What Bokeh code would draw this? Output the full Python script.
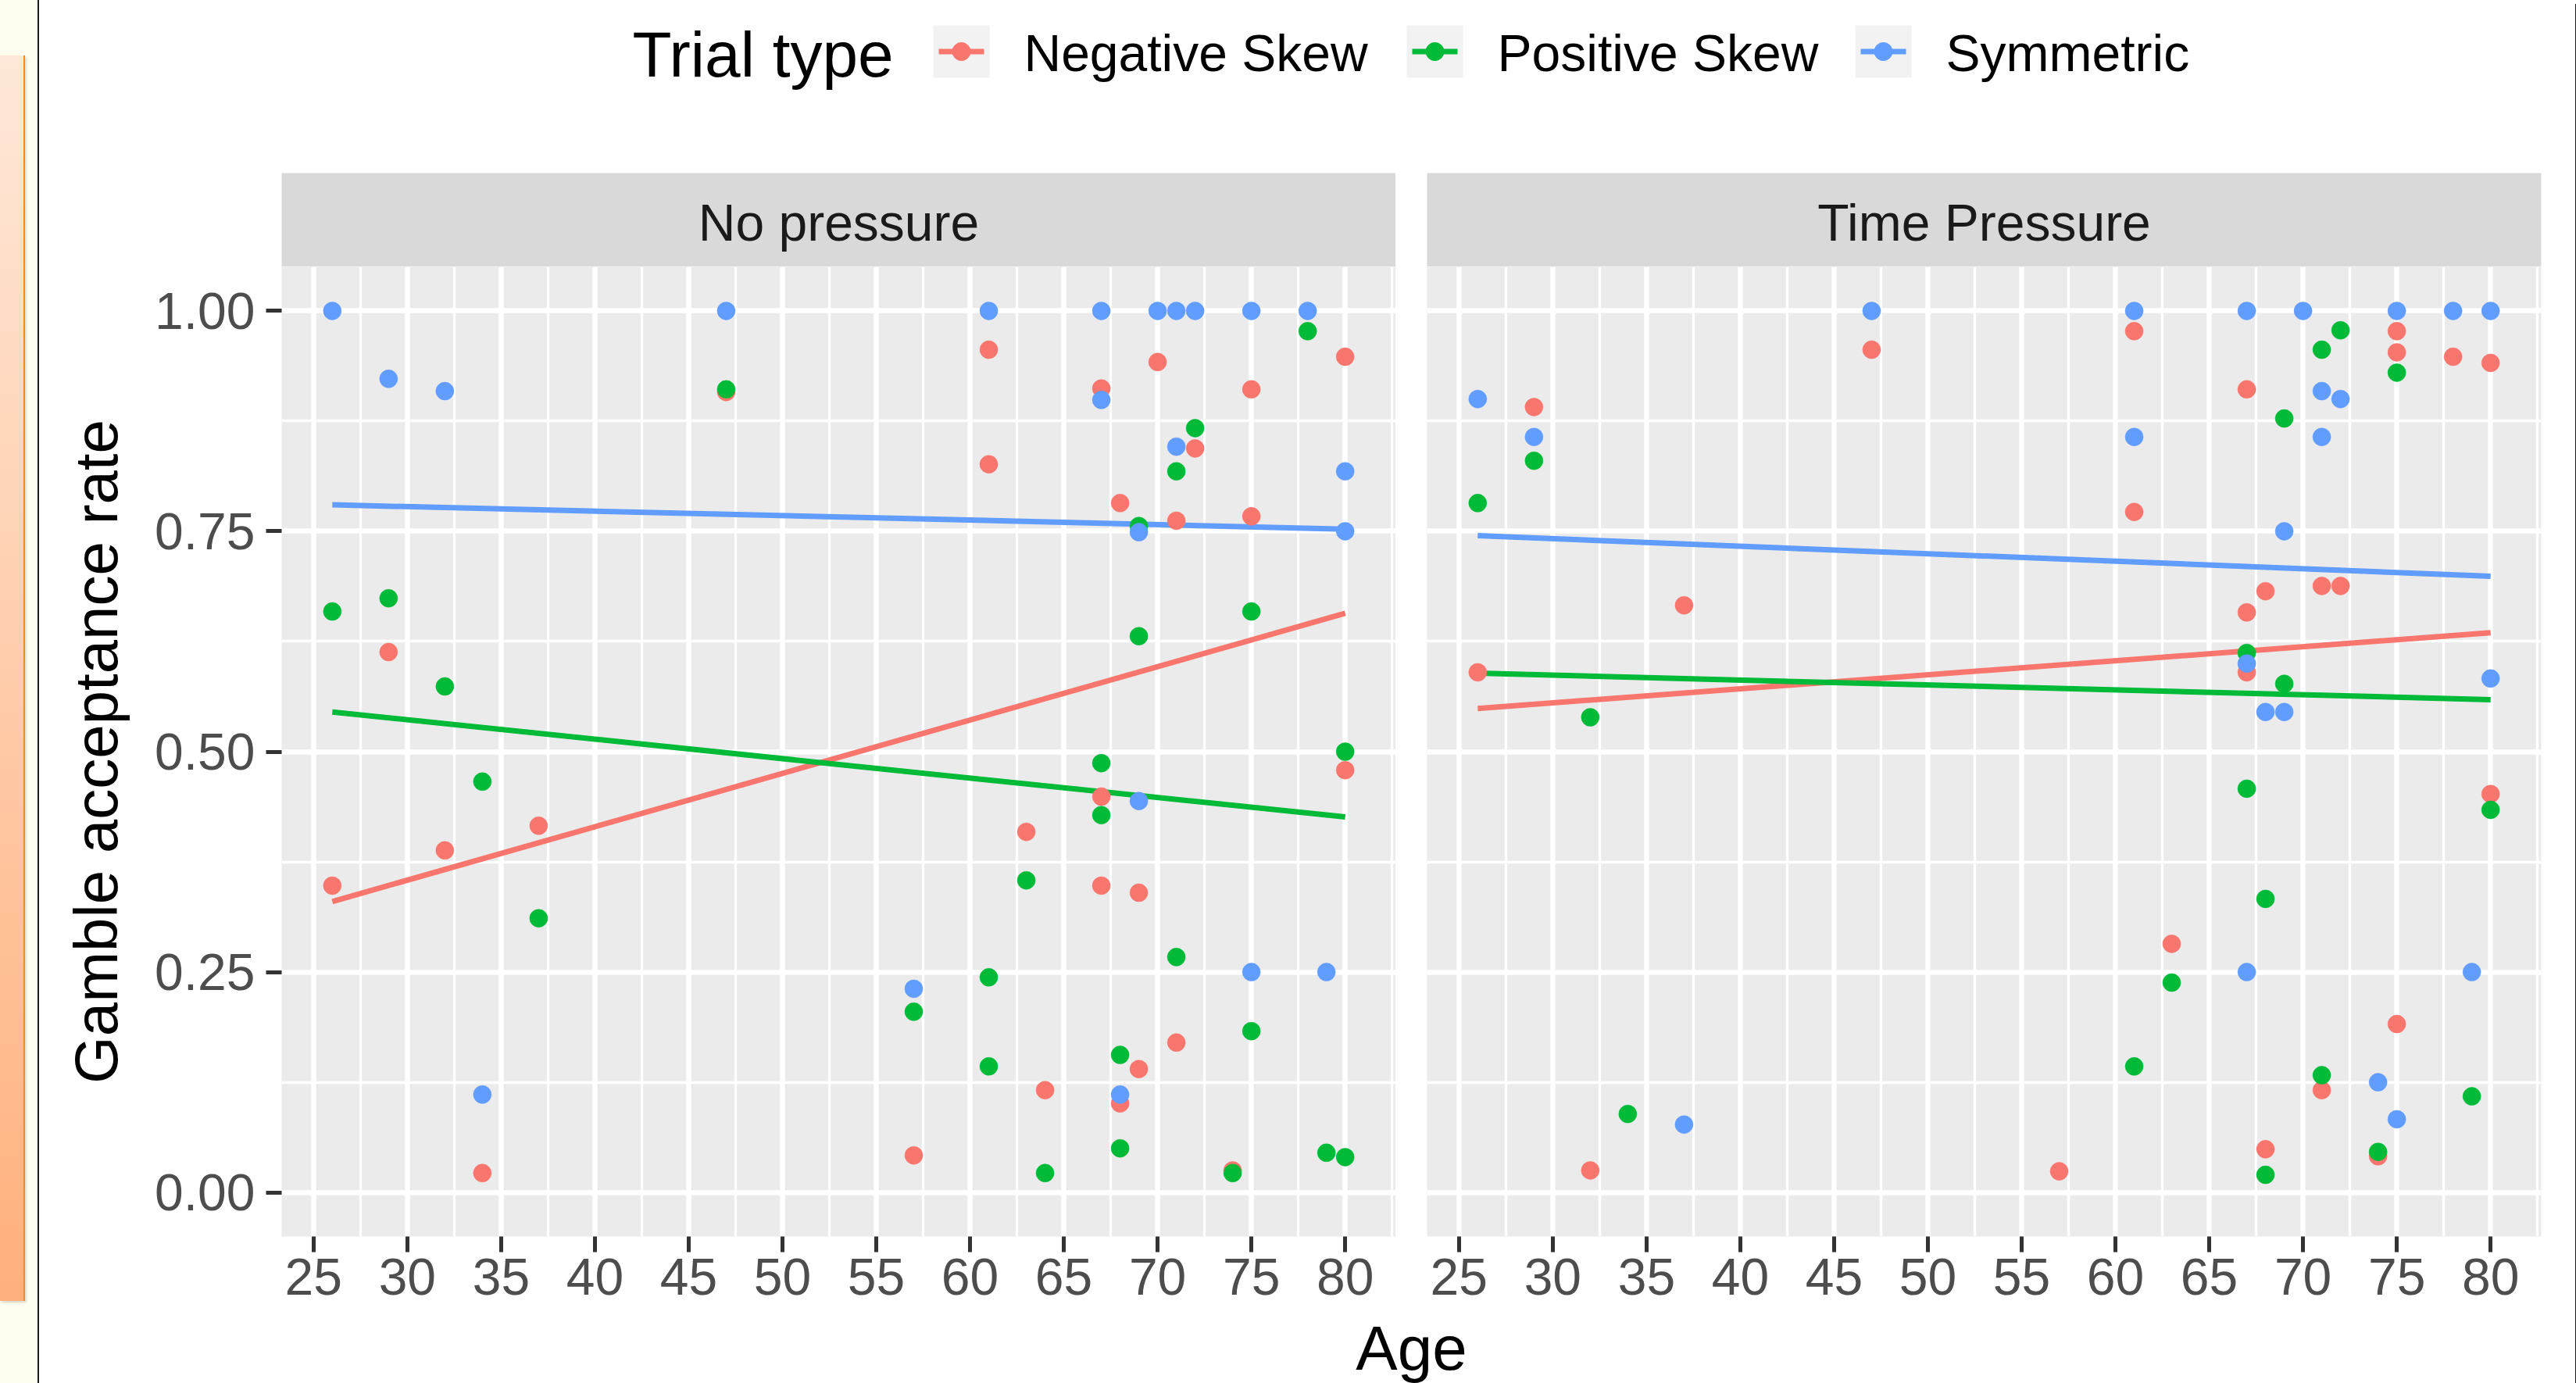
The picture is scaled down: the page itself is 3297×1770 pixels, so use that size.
from bokeh.plotting import figure
from bokeh.models import Range1d, FixedTicker, Div, NumeralTickFormatter
from bokeh.layouts import row, column
from bokeh.embed import file_html
from bokeh.resources import INLINE
from bokeh.core.properties import value

# ------------------------------------------------------------------ data
trial_types = ["Negative Skew", "Positive Skew", "Symmetric"]
type_colors = ["#F8766D", "#00BA38", "#619CFF"]
panels = ["No pressure", "Time Pressure"]

x_ticks = [25, 30, 35, 40, 45, 50, 55, 60, 65, 70, 75, 80]
y_ticks = [0.0, 0.25, 0.5, 0.75, 1.0]

# --- No pressure
np_neg_age = [26, 29, 32, 34, 37, 47, 57, 61, 61, 63, 64, 67, 67, 67, 68, 68, 69, 69,
              70, 71, 71, 72, 74, 75, 75, 80, 80]
np_neg_rate = [0.348, 0.613, 0.388, 0.022, 0.416, 0.908, 0.042, 0.956, 0.826, 0.409, 0.116,
               0.912, 0.449, 0.348, 0.782, 0.101, 0.340, 0.140, 0.942, 0.762, 0.170, 0.844,
               0.025, 0.911, 0.767, 0.948, 0.479]
np_pos_age = [26, 29, 32, 34, 37, 47, 57, 61, 61, 63, 64, 67, 67, 68, 68, 69, 69, 71, 71,
              72, 74, 75, 75, 78, 79, 80, 80]
np_pos_rate = [0.659, 0.674, 0.574, 0.466, 0.311, 0.911, 0.205, 0.244, 0.143, 0.354, 0.022,
               0.487, 0.428, 0.156, 0.050, 0.756, 0.631, 0.818, 0.267, 0.867, 0.022, 0.659,
               0.183, 0.977, 0.045, 0.500, 0.040]
np_sym_age = [26, 29, 32, 34, 47, 57, 61, 67, 67, 68, 69, 69, 70, 71, 71, 72, 75, 75, 78,
              79, 80, 80]
np_sym_rate = [1.000, 0.923, 0.909, 0.111, 1.000, 0.231, 1.000, 1.000, 0.899, 0.111, 0.749,
               0.444, 1.000, 1.000, 0.846, 1.000, 1.000, 0.250, 1.000, 0.250, 0.818, 0.750]

# --- Time Pressure
tp_neg_age = [26, 29, 32, 37, 47, 57, 61, 61, 63, 67, 67, 67, 68, 68, 71, 71, 72, 74, 75,
              75, 75, 78, 80, 80]
tp_neg_rate = [0.590, 0.891, 0.025, 0.666, 0.956, 0.024, 0.977, 0.772, 0.282, 0.911, 0.658,
               0.590, 0.682, 0.049, 0.688, 0.116, 0.688, 0.041, 0.977, 0.953, 0.191, 0.948,
               0.941, 0.452]
tp_pos_age = [26, 29, 32, 34, 61, 63, 67, 67, 68, 68, 69, 69, 71, 71, 72, 74, 75, 79, 80]
tp_pos_rate = [0.782, 0.830, 0.539, 0.089, 0.143, 0.238, 0.612, 0.458, 0.333, 0.020, 0.878,
               0.577, 0.956, 0.133, 0.978, 0.046, 0.930, 0.109, 0.434]
tp_sym_age = [26, 29, 37, 47, 61, 61, 67, 67, 67, 68, 69, 69, 70, 71, 71, 72, 74, 75, 75,
              78, 79, 80, 80]
tp_sym_rate = [0.900, 0.857, 0.077, 1.000, 1.000, 0.857, 1.000, 0.600, 0.250, 0.545, 0.750,
               0.545, 1.000, 0.909, 0.857, 0.900, 0.125, 1.000, 0.083, 1.000, 0.250, 1.000,
               0.583]

# linear fits (value at youngest and oldest age)
fit_ages = [26, 80]
np_neg_fit = [0.330, 0.657]
np_pos_fit = [0.545, 0.426]
np_sym_fit = [0.780, 0.7525]
tp_neg_fit = [0.549, 0.635]
tp_pos_fit = [0.589, 0.559]
tp_sym_fit = [0.745, 0.699]

panel_points = [
    [(np_neg_age, np_neg_rate), (np_pos_age, np_pos_rate), (np_sym_age, np_sym_rate)],
    [(tp_neg_age, tp_neg_rate), (tp_pos_age, tp_pos_rate), (tp_sym_age, tp_sym_rate)],
]
panel_fits = [[np_neg_fit, np_pos_fit, np_sym_fit], [tp_neg_fit, tp_pos_fit, tp_sym_fit]]

# ------------------------------------------------------------------ styling / layout
FONT = "Liberation Sans"
PANEL_W = 1426
LEFT_B = [310, 40]
RIGHT_B = [0, 39]
MAIN_W = 3241
LEG_H, STRIP_H, PLOT_H, AGE_H = 221, 120, 1351, 78
FRAME_H = 1241
x_minor = [t + 2.5 for t in x_ticks]
y_minor = [t + 0.125 for t in y_ticks[:-1]]


def bare(p):
    p.xgrid.visible = False
    p.ygrid.visible = False
    return p


def make_strip(i):
    p = figure(width=LEFT_B[i] + PANEL_W + RIGHT_B[i], height=STRIP_H,
               x_range=Range1d(0, 1), y_range=Range1d(0, 1),
               min_border_left=LEFT_B[i], min_border_right=RIGHT_B[i],
               min_border_top=0, min_border_bottom=0,
               x_axis_location=None, y_axis_location=None,
               background_fill_color="#D9D9D9", border_fill_color="white",
               outline_line_color=None, output_backend="svg", toolbar_location=None)
    bare(p)
    p.text(x=[0.5], y=[0.47], text=[panels[i]], text_font=value(FONT),
           text_font_size="66px", text_color="#1A1A1A",
           text_align="center", text_baseline="middle")
    return p


def make_panel(i):
    p = figure(width=LEFT_B[i] + PANEL_W + RIGHT_B[i], height=PLOT_H,
               x_range=Range1d(23.3, 82.7), y_range=Range1d(-0.05, 1.05),
               min_border_left=LEFT_B[i], min_border_right=RIGHT_B[i],
               min_border_top=0, min_border_bottom=PLOT_H - FRAME_H,
               background_fill_color="#EBEBEB", border_fill_color="white",
               outline_line_color=None, output_backend="svg", toolbar_location=None)
    p.xaxis.ticker = FixedTicker(ticks=x_ticks, minor_ticks=x_minor)
    p.yaxis.ticker = FixedTicker(ticks=y_ticks, minor_ticks=y_minor)
    p.xgrid.ticker = FixedTicker(ticks=x_ticks, minor_ticks=x_minor)
    p.ygrid.ticker = FixedTicker(ticks=y_ticks, minor_ticks=y_minor)
    for g in (p.xgrid, p.ygrid):
        g.grid_line_color = "white"
        g.grid_line_width = 6.5
        g.minor_grid_line_color = "white"
        g.minor_grid_line_width = 3.3
    p.yaxis.formatter = NumeralTickFormatter(format="0.00")
    for ax in (p.xaxis, p.yaxis):
        ax.axis_line_color = None
        ax.major_tick_line_color = "#333333"
        ax.major_tick_line_width = 5
        ax.major_tick_out = 20
        ax.major_tick_in = 0
        ax.minor_tick_out = 0
        ax.minor_tick_in = 0
        ax.major_label_text_font = FONT
        ax.major_label_text_font_size = "66px"
        ax.major_label_text_color = "#4D4D4D"
    p.xaxis.major_label_standoff = 8
    p.yaxis.major_label_standoff = 14
    if i == 0:
        p.yaxis.axis_label = "Gamble acceptance rate"
        p.yaxis.axis_label_text_font = FONT
        p.yaxis.axis_label_text_font_size = "78px"
        p.yaxis.axis_label_text_font_style = "normal"
        p.yaxis.axis_label_text_color = "black"
        p.yaxis.axis_label_standoff = 28
    else:
        p.yaxis.visible = False

    for fit, col in zip(panel_fits[i], type_colors):
        p.line(fit_ages, fit, line_color=col, line_width=7)
    for (ages, rates), col in zip(panel_points[i], type_colors):
        p.scatter(ages, rates, size=23, fill_color=col, line_color=col, line_width=0.5)
    return p


# legend figure (page coordinates)
leg = figure(width=MAIN_W, height=LEG_H, x_range=Range1d(50, 50 + MAIN_W),
             y_range=Range1d(LEG_H, 0), min_border=0,
             x_axis_location=None, y_axis_location=None, outline_line_color=None,
             background_fill_color="white", border_fill_color="white",
             output_backend="svg", toolbar_location=None)
bare(leg)
KEY_X = [1194, 1800, 2374]
KEY_W, KEY_TOP, KEY_BOT = 72, 32, 99
key_mid = (KEY_TOP + KEY_BOT) / 2
leg.text(x=[809], y=[69], text=["Trial type"], text_font=value(FONT),
         text_font_size="82px", text_color="black", text_baseline="middle")
leg.quad(left=KEY_X, right=[k + KEY_W for k in KEY_X], top=[KEY_TOP] * 3,
         bottom=[KEY_BOT] * 3, fill_color="#F2F2F2", line_color=None)
leg.segment(x0=[k + 7 for k in KEY_X], x1=[k + KEY_W - 7 for k in KEY_X],
            y0=[key_mid] * 3, y1=[key_mid] * 3, line_color=type_colors, line_width=7)
leg.scatter(x=[k + KEY_W / 2 for k in KEY_X], y=[key_mid] * 3, size=23,
            fill_color=type_colors, line_color=type_colors)
leg.text(x=[k + KEY_W + 44 for k in KEY_X], y=[67] * 3, text=trial_types,
         text_font=value(FONT), text_font_size="66px", text_color="black",
         text_baseline="middle")

# "Age" figure
age = figure(width=MAIN_W, height=AGE_H, x_range=Range1d(50, 50 + MAIN_W),
             y_range=Range1d(1770, 1770 - AGE_H), min_border=0,
             x_axis_location=None, y_axis_location=None, outline_line_color=None,
             background_fill_color="white", border_fill_color="white",
             output_backend="svg", toolbar_location=None)
bare(age)
age.text(x=[(360 + 360 + 2 * PANEL_W + 40) / 2], y=[1725], text=["Age"],
         text_font=value(FONT), text_font_size="80px", text_color="black",
         text_align="center", text_baseline="middle")

left_deco = Div(width=50, height=1770,
                text='<div style="margin-top:71px;width:32px;height:1594px;'
                     'background:linear-gradient(#FFE8D9,#FFB07C);'
                     'border-right:2px solid #F08A2A;'
                     'box-shadow:2px 2px 3px rgba(0,0,0,0.15)"></div>',
                styles={"background-color": "#FFFDF0", "border-right": "2px solid #1a1a1a",
                        "box-sizing": "border-box", "margin": "0", "padding": "0"})
right_deco = Div(width=6, height=1770, text="",
                 styles={"border-left": "2px solid #1a1a1a", "box-sizing": "border-box",
                         "background-color": "white"})

main = column(leg, row(make_strip(0), make_strip(1)), row(make_panel(0), make_panel(1)), age)
layout = row(left_deco, main, right_deco)

open("out.html", "w").write(file_html(layout, INLINE))
